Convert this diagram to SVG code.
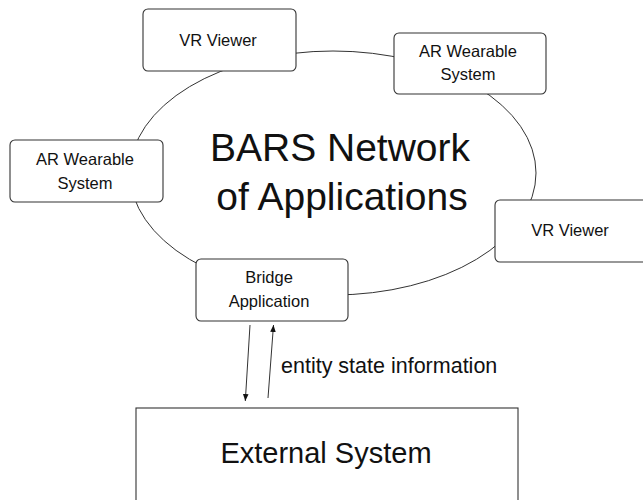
<svg xmlns="http://www.w3.org/2000/svg" width="643" height="500" viewBox="0 0 643 500">
<style>
.box{fill:#fff;stroke:#333;stroke-width:1.1}
.t{font-family:"Liberation Sans",Arial,sans-serif;fill:#111;text-anchor:middle}
.s{font-size:16.5px}
.line{fill:none;stroke:#333;stroke-width:1}
</style>
<defs>
<marker id="ah" viewBox="0 0 10 10" refX="10" refY="5" markerWidth="7" markerHeight="9" markerUnits="userSpaceOnUse" orient="auto">
<path d="M0,1 L10,5 L0,9 Z" fill="#111"/>
</marker>
</defs>
<rect width="643" height="500" fill="#fff"/>
<g id="connectors">
<ellipse class="line" cx="333" cy="173" rx="203" ry="122"/>
<line class="line" x1="250" y1="325" x2="245.3" y2="401" marker-end="url(#ah)"/>
<line class="line" x1="268" y1="398" x2="273.5" y2="325" marker-end="url(#ah)"/>
</g>
<g id="network">
<text class="t" x="340" y="161" font-size="39">BARS Network</text>
<text class="t" x="342" y="210" font-size="39">of Applications</text>
</g>
<g id="vr-top">
<rect class="box" x="143" y="9" width="153" height="62" rx="5"/>
<text class="t s" x="218" y="46">VR Viewer</text>
</g>
<g id="ar-right">
<rect class="box" x="394" y="33" width="152" height="61" rx="5"/>
<text class="t s" x="468" y="57">AR Wearable</text>
<text class="t s" x="468" y="80">System</text>
</g>
<g id="ar-left">
<rect class="box" x="10" y="140" width="153" height="62" rx="5"/>
<text class="t s" x="85" y="165">AR Wearable</text>
<text class="t s" x="85" y="189">System</text>
</g>
<g id="vr-right">
<rect class="box" x="495" y="200" width="160" height="62" rx="5"/>
<text class="t s" x="570" y="236">VR Viewer</text>
</g>
<g id="bridge">
<rect class="box" x="196" y="259" width="152" height="62" rx="5"/>
<text class="t s" x="269" y="283">Bridge</text>
<text class="t s" x="269" y="307">Application</text>
</g>
<g id="label">
<text class="t" x="281" y="373" font-size="21.5" style="text-anchor:start">entity state information</text>
</g>
<g id="external">
<rect class="box" x="136" y="408" width="382" height="110"/>
<text class="t" x="326" y="463" font-size="29">External System</text>
</g>
</svg>
